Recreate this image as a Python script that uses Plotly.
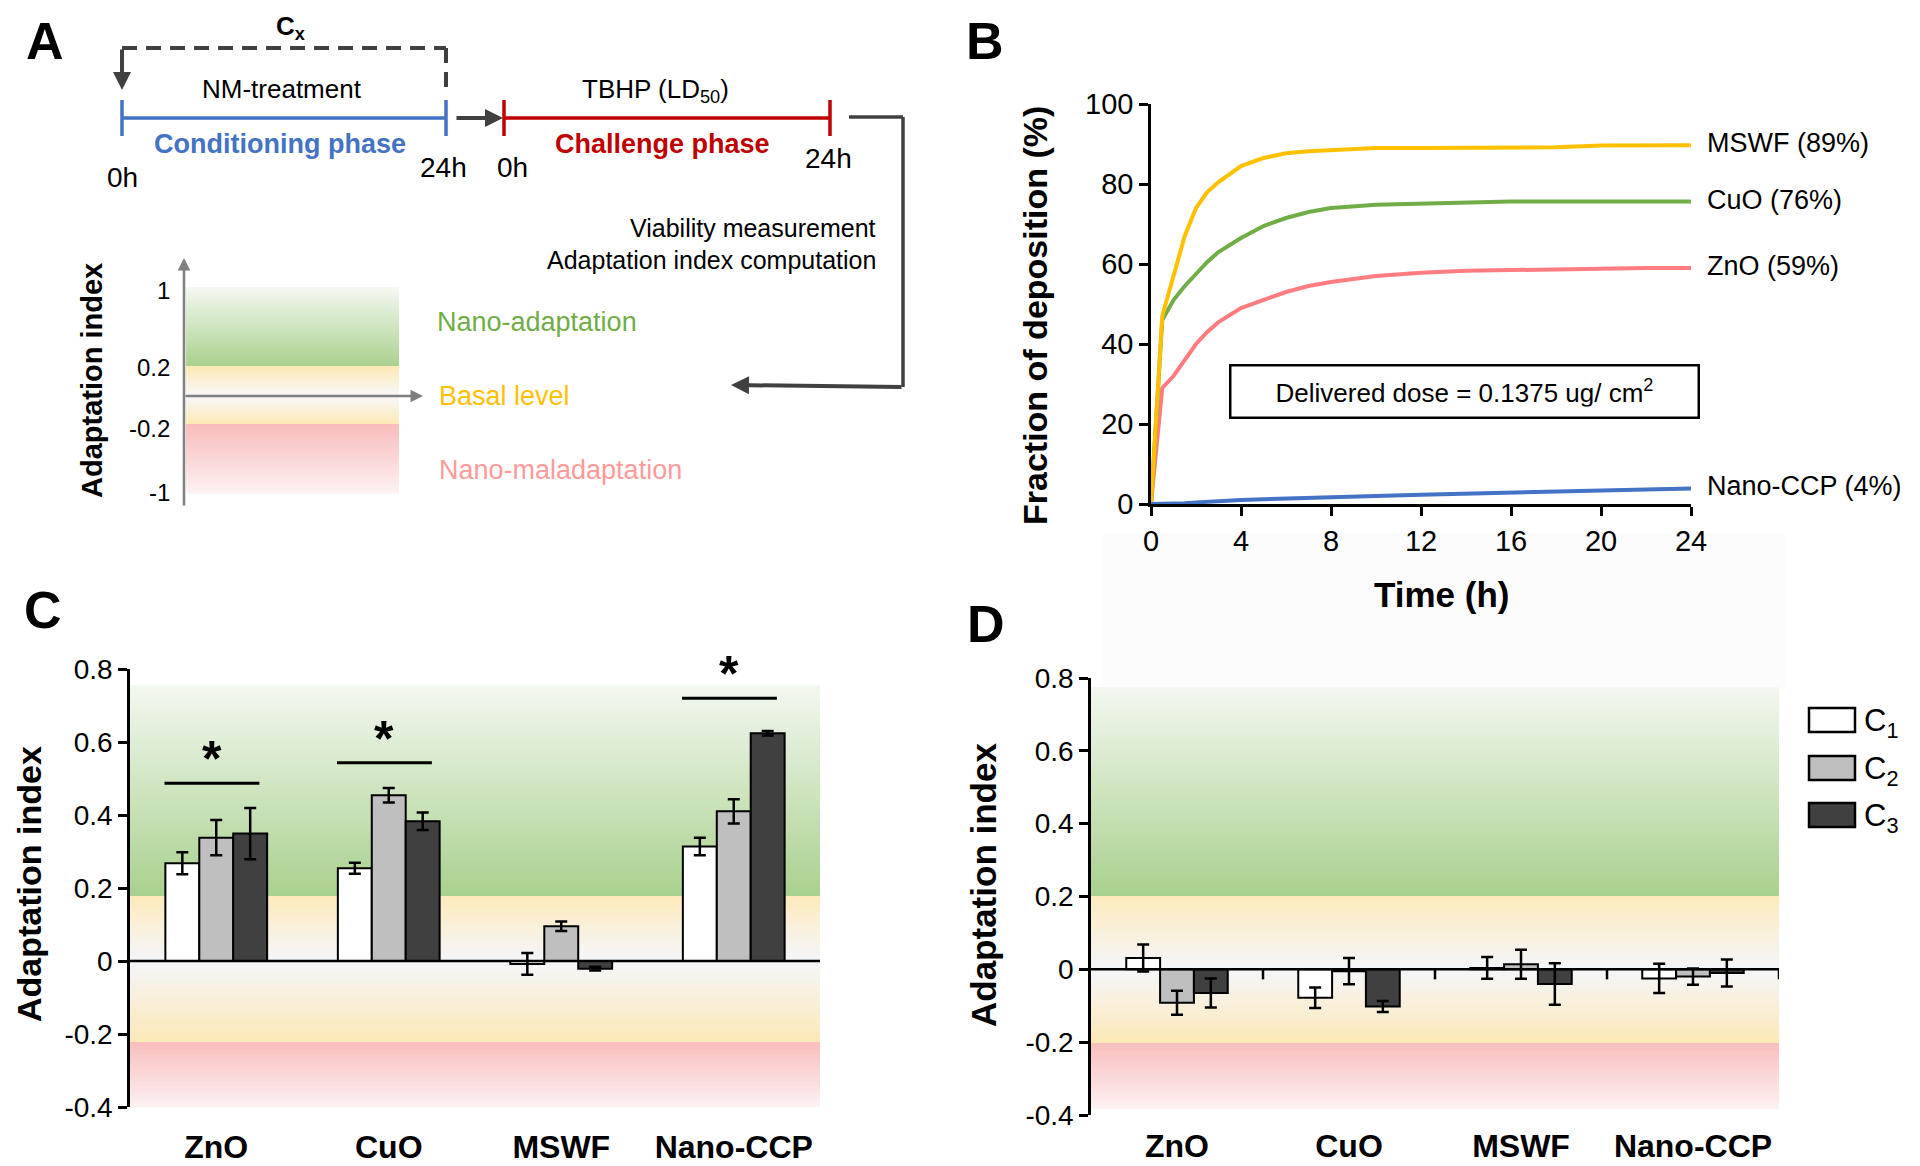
import numpy as np
import plotly.graph_objects as go

W, H = 1920, 1166
OFF = 8  # the page body adds an 8 px margin around the figure
FONT = "Liberation Sans, Arial, Helvetica, sans-serif"

# ---------------- panel B: deposition kinetics ----------------
time_h = [0, 0.5, 1, 1.5, 2, 2.5, 3, 4, 5, 6, 7, 8, 10, 12, 14, 16, 18, 20, 22, 24]
dep_zno = [0, 29, 32, 36, 40, 43, 45.5, 49, 51, 53, 54.5, 55.5, 57, 57.8, 58.3, 58.5, 58.6, 59, 59, 59]
dep_cuo = [0, 46, 51, 54.5, 57.5, 60.5, 63, 66.5, 69.5, 71.5, 73, 74, 74.8, 75.1, 75.4, 75.6, 75.6, 75.6, 75.6, 75.6]
dep_mswf = [0, 47, 57, 67, 74, 78, 80.5, 84.5, 86.5, 87.7, 88.2, 88.5, 89, 89, 89, 89, 89.2, 89.6, 89.7, 89.7]
dep_ccp = [0, 0, 0.1, 0.2, 0.4, 0.6, 0.8, 1.0, 1.2, 1.4, 1.5, 1.6, 2.0, 2.3, 2.6, 2.8, 3.1, 3.3, 3.6, 3.9]
dep_series = [dep_zno, dep_cuo, dep_mswf, dep_ccp]
dep_labels = ["ZnO (59%)", "CuO (76%)", "MSWF (89%)", "Nano-CCP (4%)"]
dep_colors = ["#ff7c80", "#70ad47", "#ffc000", "#4472c4"]
time_ticks = [0, 4, 8, 12, 16, 20, 24]
dep_ticks = [0, 20, 40, 60, 80, 100]

# ---------------- panels C and D: adaptation index ----------------
categories = ["ZnO", "CuO", "MSWF", "Nano-CCP"]
cat_pos = [0, 1, 2, 3]
conc_names = ["C<sub>1</sub>", "C<sub>2</sub>", "C<sub>3</sub>"]
conc_colors = ["#ffffff", "#bfbfbf", "#404040"]

ai_c = [
    [0.268, 0.254, -0.008, 0.314],
    [0.338, 0.454, 0.095, 0.410],
    [0.349, 0.383, -0.021, 0.624],
]
err_c = [
    [0.030, 0.015, 0.030, 0.024],
    [0.048, 0.020, 0.013, 0.033],
    [0.070, 0.024, 0.005, 0.006],
]
ai_d = [
    [0.031, -0.078, 0.004, -0.025],
    [-0.092, -0.005, 0.014, -0.020],
    [-0.065, -0.102, -0.040, -0.010],
]
err_d = [
    [0.037, 0.028, 0.030, 0.040],
    [0.033, 0.036, 0.040, 0.022],
    [0.040, 0.015, 0.057, 0.037],
]
ai_ticks = [-0.4, -0.2, 0, 0.2, 0.4, 0.6, 0.8]
ai_ticktext = ["-0.4", "-0.2", "0", "0.2", "0.4", "0.6", "0.8"]
sig_groups = [0, 1, 3]
sig_heights = [0.487, 0.543, 0.720]

# ---------------- helpers ----------------
def px(x, y):
    return (x - OFF) / W, 1 - (y - OFF) / H


def text(s, x, y, size, color="black", bold=False, xanchor="center",
         yanchor="middle", angle=0):
    xx, yy = px(x, y)
    return dict(text=s, x=xx, y=yy, xref="paper", yref="paper",
                showarrow=False, xanchor=xanchor, yanchor=yanchor,
                textangle=angle,
                font=dict(family=FONT, size=size, color=color,
                          weight="bold" if bold else "normal"))


def seg(x0, y0, x1, y1, color, width, dash="solid"):
    a, b = px(x0, y0)
    c, d = px(x1, y1)
    return dict(type="line", xref="paper", yref="paper", x0=a, y0=b,
                x1=c, y1=d, line=dict(color=color, width=width, dash=dash))


def arrow(tail, head, color, width, size=1.0):
    hx, hy = px(*head)
    return dict(text="", x=hx, y=hy, xref="paper", yref="paper",
                showarrow=True, ax=tail[0] - head[0], ay=tail[1] - head[1],
                arrowhead=2, arrowsize=size, arrowwidth=width,
                arrowcolor=color)


def band_trace(xa, ya, x_edges, stops, n=260):
    lo, hi = stops[0][0], stops[-1][0]
    edges = np.linspace(lo, hi, n + 1)
    mids = (edges[:-1] + edges[1:]) / 2
    scale = [[(v - lo) / (hi - lo), c] for v, c in stops]
    scale[0][0], scale[-1][0] = 0.0, 1.0
    return go.Heatmap(x=x_edges, y=edges, z=[[m] for m in mids],
                      zmin=lo, zmax=hi, colorscale=scale, showscale=False,
                      hoverinfo="skip", xaxis=xa, yaxis=ya)


def dom_x(a, b):
    return [(a - OFF) / W, (b - OFF) / W]


def dom_y(top, bottom):
    return [1 - (bottom - OFF) / H, 1 - (top - OFF) / H]


BLUE, RED, DARK = "#4472c4", "#c00000", "#404040"

fig = go.Figure()

# background bands (schematic uses a pixel-like axis, C and D the data axes)
fig.add_trace(band_trace("x4", "y4", [186, 399], [
    (287, "#f4f9f1"), (366, "#a9d18e"), (366, "#fde9b5"), (396, "#f8f8fa"),
    (424, "#fde9b5"), (424, "#f9bcbc"), (494, "#fdf2f2")]))
fig.add_trace(band_trace("x2", "y2", [-0.5, 3.5], [
    (-0.4, "#fdf2f2"), (-0.22, "#f9bdbd"), (-0.22, "#fce9b8"), (0, "#f5f6fa"),
    (0.177, "#fdebbd"), (0.177, "#a9d18e"), (0.756, "#f3f8f0")]))
fig.add_trace(band_trace("x3", "y3", [-0.5, 3.5], [
    (-0.385, "#fdf2f2"), (-0.2, "#f9bdbd"), (-0.2, "#fce9b8"), (0, "#f5f6fa"),
    (0.2, "#fdebbd"), (0.2, "#a9d18e"), (0.775, "#f3f8f0")]))

# panel B lines
for vals, color in zip(dep_series, dep_colors):
    fig.add_trace(go.Scatter(x=time_h, y=vals, mode="lines",
                             line=dict(color=color, width=4),
                             cliponaxis=False, showlegend=False,
                             xaxis="x", yaxis="y"))

# panels C and D bars
for xa, ya, vals, errs in (("x2", "y2", ai_c, err_c), ("x3", "y3", ai_d, err_d)):
    for k in range(3):
        fig.add_trace(go.Bar(
            x=cat_pos, y=vals[k], name=conc_names[k], showlegend=False,
            marker=dict(color=conc_colors[k], line=dict(color="black", width=2)),
            error_y=dict(type="data", array=errs[k], color="black",
                         thickness=2.5, width=6),
            xaxis=xa, yaxis=ya))

# significance brackets in C
for g, h in zip(sig_groups, sig_heights):
    fig.add_trace(go.Scatter(x=[g - 0.3, g + 0.25], y=[h, h], mode="lines",
                             line=dict(color="black", width=3),
                             showlegend=False, xaxis="x2", yaxis="y2"))

ann = []
shp = []

for g, h in zip(sig_groups, sig_heights):
    ann.append(dict(text="*", x=g - 0.025, y=h, xref="x2", yref="y2",
                    showarrow=False, xanchor="center", yanchor="bottom",
                    yshift=-6,
                    font=dict(family=FONT, size=50, color="black",
                              weight="bold")))

# series labels at end of B curves
for vals, lab in zip(dep_series, dep_labels):
    ann.append(dict(text=lab, x=time_h[-1], y=vals[-1], xref="x", yref="y",
                    showarrow=False, xanchor="left", yanchor="middle",
                    xshift=14, yshift=2,
                    font=dict(family=FONT, size=27, color="black")))

# delivered dose box
bx, by = px(1464, 392)
ann.append(dict(text="Delivered dose = 0.1375 ug/ cm<sup>2</sup>", x=bx, y=by,
                xref="paper", yref="paper", showarrow=False,
                xanchor="center", yanchor="middle", width=446,
                height=30, borderpad=10, bordercolor="black", borderwidth=2.5,
                bgcolor="white", font=dict(family=FONT, size=26, color="black")))

# zero lines and boundary ticks
shp.append(dict(type="line", xref="x2 domain", yref="y2", x0=0, x1=1, y0=0,
                y1=0, line=dict(color="black", width=2.5), layer="above"))
shp.append(dict(type="line", xref="x3 domain", yref="y3", x0=0, x1=1, y0=0,
                y1=0, line=dict(color="black", width=2.5), layer="above"))
for b in [0.5, 1.5, 2.5, 3.5]:
    shp.append(dict(type="line", xref="x3", yref="y3", ysizemode="pixel",
                    yanchor=0, x0=b, x1=b, y0=0, y1=-10,
                    line=dict(color="black", width=2.5), layer="above"))

# faint backdrop above D
x0, y0 = px(1103, 533)
x1, y1 = px(1785, 690)
shp.append(dict(type="rect", xref="paper", yref="paper", x0=x0, y0=y0, x1=x1,
                y1=y1, fillcolor="#fcfcfc", line=dict(width=0), layer="below"))

# legend in D
for k, yc in enumerate([720, 768, 815]):
    a, b = px(1809, yc - 12)
    c, d = px(1855, yc + 12)
    shp.append(dict(type="rect", xref="paper", yref="paper", x0=a, y0=b,
                    x1=c, y1=d, fillcolor=conc_colors[k],
                    line=dict(color="black", width=2.5)))
    ann.append(text(conc_names[k], 1862, yc + 3, 31, xanchor="left"))

# panel letters and axis titles
ann += [
    text("A", 45, 41, 52, bold=True),
    text("B", 985, 41, 52, bold=True),
    text("C", 43, 610, 52, bold=True),
    text("D", 986, 624, 52, bold=True),
    text("Fraction of deposition (%)", 1035, 316, 34, bold=True, angle=-90),
    text("Time (h)", 1441, 595, 35, bold=True),
    text("Adaptation index", 29, 884, 34, bold=True, angle=-90),
    text("Adaptation index", 983, 885, 35, bold=True, angle=-90),
]

# ---------------- panel A schematic ----------------
ann += [
    text("C<sub>x</sub>", 290, 27, 26, bold=True),
    text("NM-treatment", 282, 89, 26),
    text("TBHP (LD<sub>50</sub>)", 655, 90, 26),
    text("Conditioning phase", 280, 144, 27, color=BLUE, bold=True),
    text("Challenge phase", 662, 144, 27, color=RED, bold=True),
    text("0h", 122, 177, 28),
    text("24h", 443, 167, 28),
    text("0h", 512, 167, 28),
    text("24h", 828, 158, 28),
    text("Viability measurement", 878, 228, 25, xanchor="right"),
    text("Adaptation index computation", 878, 260, 25, xanchor="right"),
    text("1", 172, 290, 24, xanchor="right"),
    text("0.2", 172, 367, 24, xanchor="right"),
    text("-0.2", 172, 428, 24, xanchor="right"),
    text("-1", 172, 492, 24, xanchor="right"),
    text("Adaptation index", 92, 381, 29, bold=True, angle=-90),
    text("Nano-adaptation", 435, 322, 27, color="#70ad47", xanchor="left"),
    text("Basal level", 437, 396, 27, color="#ffc000", xanchor="left"),
    text("Nano-maladaptation", 437, 470, 27, color="#ff9a9a", xanchor="left"),
]
shp += [
    seg(122, 48, 446, 48, DARK, 4, dash="15px,9px"),
    seg(446, 48, 446, 92, DARK, 4, dash="15px,9px"),
    seg(122, 118, 446, 118, BLUE, 3.5),
    seg(122, 100, 122, 136, BLUE, 3.5),
    seg(446, 100, 446, 136, BLUE, 3.5),
    seg(504, 118, 830, 118, RED, 3.5),
    seg(504, 100, 504, 136, RED, 3.5),
    seg(830, 100, 830, 136, RED, 3.5),
    seg(849, 117, 903, 117, DARK, 3.5),
    seg(903, 117, 903, 387, DARK, 3.5),
]
ann += [
    arrow((122, 48), (122, 90), DARK, 4, 0.9),
    arrow((455, 118), (503, 118), DARK, 4, 0.9),
    arrow((903, 387), (731, 385), DARK, 4, 0.9),
    arrow((184, 507), (184, 258), "#7f7f7f", 2.5, 1.0),
    arrow((184, 396), (423, 396), "#7f7f7f", 2.5, 1.0),
]

# ---------------- layout ----------------
axis_line = dict(showgrid=False, zeroline=False, showline=True,
                 linecolor="black", linewidth=2.5, ticks="outside",
                 ticklen=9, tickwidth=2.5, tickcolor="black",
                 automargin=False)
cat_axis = dict(range=[-0.5, 3.5], tickvals=cat_pos, ticktext=categories,
                showline=False, ticks="", showgrid=False, zeroline=False,
                automargin=False,
                tickfont=dict(family=FONT, size=32, weight="bold"))

fig.update_layout(
    template="none",
    width=W, height=H, autosize=False,
    margin=dict(l=0, r=0, t=0, b=0, pad=0),
    paper_bgcolor="white", plot_bgcolor="white",
    font=dict(family=FONT, color="black"),
    showlegend=False, barmode="group", bargap=0.41, bargroupgap=0,
    xaxis=dict(domain=dom_x(1151, 1691), anchor="y", range=[0, 24],
               tickvals=time_ticks, tickfont=dict(size=29), **axis_line),
    yaxis=dict(domain=dom_y(104, 504), anchor="x", range=[0, 100],
               tickvals=dep_ticks, tickfont=dict(size=29), **axis_line),
    xaxis2=dict(domain=dom_x(130, 820), anchor="y2", ticklabelstandoff=18,
                **cat_axis),
    yaxis2=dict(domain=dom_y(669, 1107), anchor="x2", range=[-0.4, 0.8],
                tickvals=ai_ticks, ticktext=ai_ticktext,
                tickfont=dict(size=28), **axis_line),
    xaxis3=dict(domain=dom_x(1091, 1779), anchor="y3", ticklabelstandoff=9,
                **cat_axis),
    yaxis3=dict(domain=dom_y(678, 1115), anchor="x3", range=[-0.4, 0.8],
                tickvals=ai_ticks, ticktext=ai_ticktext,
                tickfont=dict(size=28), **axis_line),
    # the schematic axis spans page pixels OFF..OFF+960 / OFF..OFF+583
    xaxis4=dict(domain=[0, 0.5], anchor="y4", range=[OFF, OFF + 960],
                visible=False, automargin=False),
    yaxis4=dict(domain=[0.5, 1], anchor="x4", range=[OFF + 583, OFF],
                visible=False, automargin=False),
    annotations=ann,
    shapes=shp,
)

fig.write_html("out.html")
